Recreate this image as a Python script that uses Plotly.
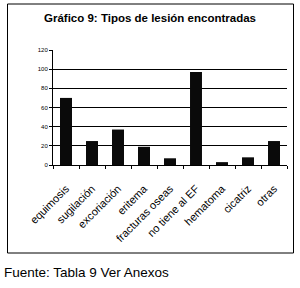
import plotly.graph_objects as go

categories = ["equimosis", "sugilación", "excoriación", "eritema", "fracturas oseas",
              "no tiene al EF", "hematoma", "cicatriz", "otras"]
values = [70, 25, 37, 19, 7, 97, 3, 8, 25]
y_ticks = [0, 20, 40, 60, 80, 100, 120]

W, H = 300, 288
L, R, T, B = 53, 13, 50, 123
pw, ph = W - L - R, H - T - B

def px(x):
    return (x - L) / pw

def py(y):
    return (H - B - y) / ph

fig = go.Figure(go.Bar(x=categories, y=values, marker=dict(color="#0a0a0a", line=dict(width=0)),
                       width=0.46))

fig.update_layout(
    template="none",
    width=W, height=H,
    margin=dict(l=L, r=R, t=T, b=B, autoexpand=False),
    paper_bgcolor="white", plot_bgcolor="white",
    font=dict(family="Liberation Sans, Arial, sans-serif", color="black"),
    showlegend=False,
    title=dict(text="<b>Gráfico 9: Tipos de lesión encontradas</b>", x=px(150), xref="paper",
               y=1 - 18 / H, yref="container", yanchor="middle", xanchor="center",
               font=dict(size=11.5, color="black")),
)

fig.update_yaxes(range=[0, 120], tickvals=y_ticks, showgrid=True, gridcolor="black", gridwidth=1,
                 showline=True, linecolor="black", linewidth=1, ticks="outside", ticklen=3,
                 tickcolor="black", tickfont=dict(size=6, color="black"), zeroline=False,
                 automargin=False, fixedrange=True)
fig.update_xaxes(showline=True, linecolor="black", linewidth=1, ticks="outside", ticklen=3,
                 tickcolor="black", tickson="boundaries", tickangle=-45, ticklabelstandoff=12,
                 tickfont=dict(size=11, color="black"), showgrid=False, automargin=False,
                 fixedrange=True)

fig.add_shape(type="rect", xref="paper", yref="paper",
              x0=px(7.5), x1=px(293.5), y0=py(253), y1=py(4),
              line=dict(color="black", width=1), fillcolor="rgba(0,0,0,0)", layer="below")

fig.add_annotation(text="Fuente: Tabla 9 Ver Anexos", xref="paper", yref="paper",
                   x=px(2), y=py(272), xanchor="left", yanchor="middle", showarrow=False,
                   font=dict(size=13.5, color="black"))

fig.write_html("out.html", config={"displayModeBar": False})
